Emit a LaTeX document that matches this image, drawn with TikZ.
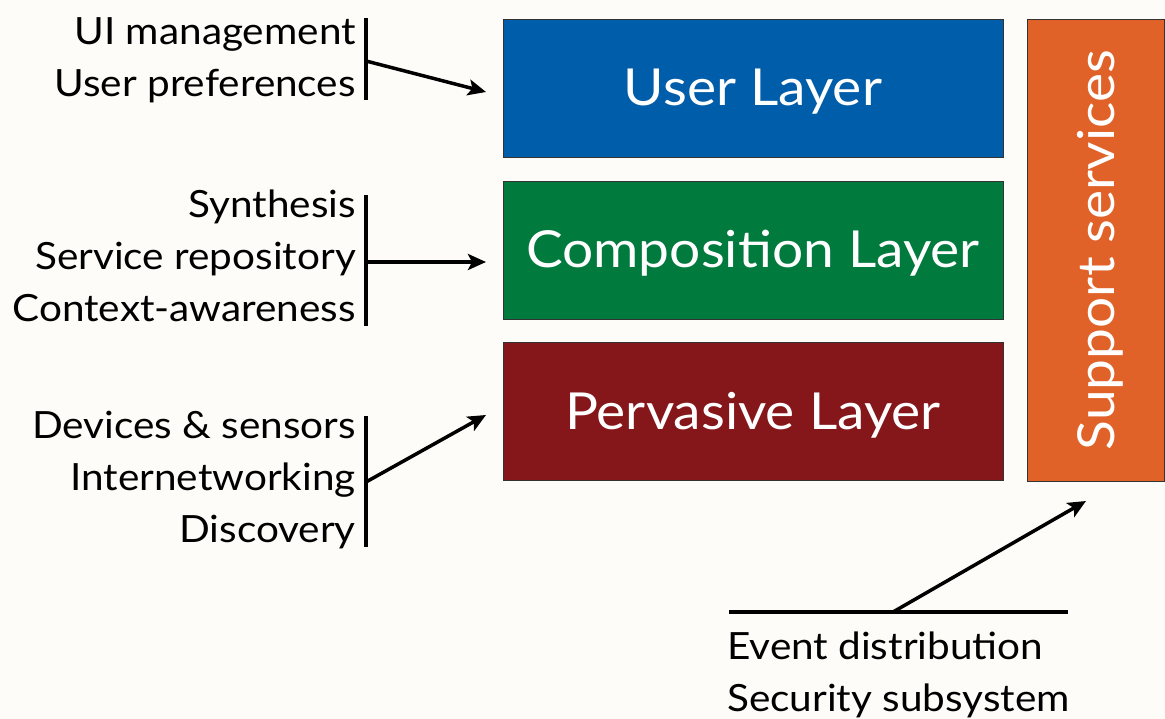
\documentclass[tikz,border=0pt]{standalone}
\usepackage{fontspec}
\setmainfont{Lato}[FakeStretch=1.08]
\usetikzlibrary{arrows.meta}
\definecolor{bg}{HTML}{FDFCF8}
\definecolor{userblue}{HTML}{005DAA}
\definecolor{compgreen}{HTML}{007A3D}
\definecolor{pervred}{HTML}{85161A}
\definecolor{suporange}{HTML}{E06228}
\tikzset{
  layer/.style={draw=black!80, line width=0.8pt, inner sep=0pt},
  ltxt/.style={text=white, anchor=base, font=\fontsize{51}{55}\selectfont, inner sep=0pt},
  lbl/.style={anchor=base east, font=\fontsize{37.5}{40}\selectfont, inner sep=0pt},
  rlbl/.style={anchor=base west, font=\fontsize{37.5}{40}\selectfont, inner sep=0pt},
  bar/.style={line width=3.5pt},
  arr/.style={line width=3.5pt, -{Stealth[length=18pt,width=16pt,inset=4pt]}}
}
\begin{document}
\begin{tikzpicture}[x=1pt,y=-1pt]
\fill[bg] (0,0) rectangle (1165,719);
\useasboundingbox (0,0) rectangle (1165,719);
\node[layer, fill=userblue, minimum width=500, minimum height=138] (user) at (753,88) {};
\node[layer, fill=compgreen, minimum width=500, minimum height=138] (comp) at (753,250) {};
\node[layer, fill=pervred, minimum width=500, minimum height=138] (perv) at (753,411) {};
\node[layer, fill=suporange, minimum width=137, minimum height=462] (sup) at (1096,250) {};
\node[ltxt] (usertxt) at (753,106) {User Layer};
\node[ltxt] (comptxt) at (753,268) {Composition Layer};
\node[ltxt] (pervtxt) at (753,429) {Pervasive Layer};
\node[ltxt, rotate=90] (suptxt) at (1114,250) {Support services};
% left labels
\node[lbl] (l1) at (356,45) {UI management};
\node[lbl] (l2) at (356,97) {User preferences};
\node[lbl] (l3) at (356,218) {Synthesis};
\node[lbl] (l4) at (356,270) {Service repository};
\node[lbl] (l5) at (356,322) {Context-awareness};
\node[lbl] (l6) at (356,438) {Devices \& sensors};
\node[lbl] (l7) at (356,490) {Internetworking};
\node[lbl] (l8) at (356,542) {Discovery};
\node[rlbl] (r1) at (727,659) {Event distribution};
\node[rlbl] (r2) at (727,711) {Security subsystem};
% bars
\coordinate (b1t) at (366,18); \coordinate (b1b) at (366,100);
\coordinate (b2t) at (366,195); \coordinate (b2b) at (366,326);
\coordinate (b3t) at (366,416); \coordinate (b3b) at (366,547);
\coordinate (b4l) at (729,612); \coordinate (b4r) at (1068,612);
\draw[bar] (b1t) -- (b1b);
\draw[bar] (b2t) -- (b2b);
\draw[bar] (b3t) -- (b3b);
\draw[bar] (b4l) -- (b4r);
\coordinate (a1) at (366,61); \coordinate (e1) at (486,92);
\coordinate (a2) at (366,262); \coordinate (e2) at (486,262);
\coordinate (a3) at (366,482); \coordinate (e3) at (486,415);
\coordinate (a4) at (893,612); \coordinate (e4) at (1086,501);
\draw[arr] (a1) -- (e1);
\draw[arr] (a2) -- (e2);
\draw[arr] (a3) -- (e3);
\draw[arr] (a4) -- (e4);
\end{tikzpicture}
\end{document}
